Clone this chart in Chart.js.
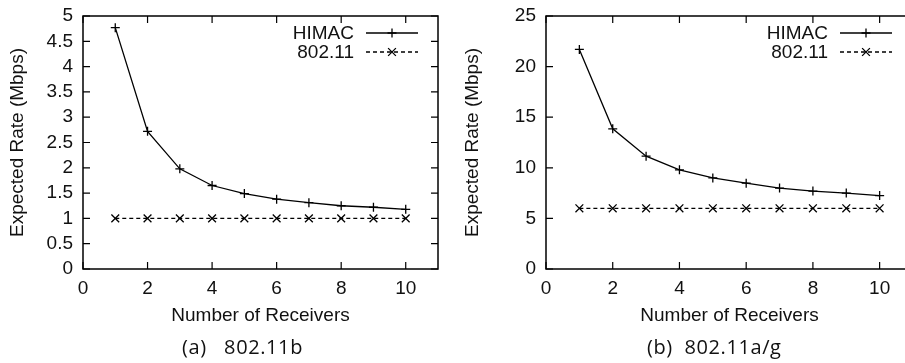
<!DOCTYPE html>
<html>
<head>
<meta charset="utf-8">
<script src="https://cdn.jsdelivr.net/npm/chart.js@4.4.1/dist/chart.umd.min.js"></script>
<style>
  html, body { margin: 0; padding: 0; background: #fff; width: 905px; height: 363px; overflow: hidden; }
  .box { position: absolute; top: 0; height: 363px; }
  #boxA { left: 0; width: 450px; }
  #boxB { left: 455px; width: 470px; }
  .caption { position: absolute; top: 333px; font-family: "Open Sans", "Noto Sans", sans-serif; font-size: 20px; color: #111; letter-spacing: 0.6px; white-space: pre; }
</style>
</head>
<body>
<div class="box" id="boxA"><canvas id="chartA" width="450" height="363"></canvas></div>
<div class="box" id="boxB"><canvas id="chartB" width="470" height="363"></canvas></div>
<div class="caption" style="left:182px">(a)   802.11b</div>
<div class="caption" style="left:647px">(b)  802.11a/g</div>
<script>
// number of receivers (x axis)
var receivers = [1, 2, 3, 4, 5, 6, 7, 8, 9, 10]

// (a) 802.11b
var himacB = [4.77, 2.72, 1.98, 1.65, 1.49, 1.38, 1.31, 1.25, 1.22, 1.18]
var dot11B = [1, 1, 1, 1, 1, 1, 1, 1, 1, 1]

// (b) 802.11a/g
var himacAG = [21.7, 13.85, 11.15, 9.8, 9.0, 8.48, 8.0, 7.7, 7.5, 7.26]
var dot11AG = [6, 6, 6, 6, 6, 6, 6, 6, 6, 6]

var seriesNames = ["HIMAC", "802.11"]

Chart.defaults.font.family = "'Liberation Sans', Arial, sans-serif"
Chart.defaults.font.size = 19
Chart.defaults.color = "#111"

var toPoints = (xs, ys) => xs.map((x, i) => ({x: x, y: ys[i]}))

// gnuplot look: full frame, inward ticks on all sides, legend top right
var gnuplotFrame = {
  id: "gnuplotFrame",
  afterDraw(chart) {
    var ctx = chart.ctx
    var a = chart.chartArea
    var xs = chart.scales.x
    var ys = chart.scales.y
    var tick = 7
    ctx.save()
    ctx.strokeStyle = "#000"
    ctx.lineWidth = 1.5
    ctx.strokeRect(a.left, a.top, a.right - a.left, a.bottom - a.top)
    ctx.lineWidth = 1.2
    ctx.beginPath()
    xs.ticks.forEach(t => {
      var px = xs.getPixelForValue(t.value)
      ctx.moveTo(px, a.bottom); ctx.lineTo(px, a.bottom - tick)
      ctx.moveTo(px, a.top); ctx.lineTo(px, a.top + tick)
    })
    ys.ticks.forEach(t => {
      var py = ys.getPixelForValue(t.value)
      ctx.moveTo(a.left, py); ctx.lineTo(a.left + tick, py)
      ctx.moveTo(a.right, py); ctx.lineTo(a.right - tick, py)
    })
    ctx.stroke()

    // legend
    var opts = chart.options.plugins.gnuplotFrame
    var sampleRight = opts.legendRight
    var sampleLeft = sampleRight - 52
    ctx.font = "19px 'Liberation Sans', Arial, sans-serif"
    ctx.fillStyle = "#111"
    ctx.textAlign = "right"
    ctx.textBaseline = "middle"
    chart.data.datasets.forEach((ds, i) => {
      var y = a.top + 17 + i * 19
      ctx.fillText(ds.label, sampleLeft - 12, y + 1)
      ctx.strokeStyle = "#000"
      ctx.lineWidth = 1.3
      ctx.setLineDash(ds.borderDash || [])
      ctx.beginPath()
      ctx.moveTo(sampleLeft, y); ctx.lineTo(sampleRight, y)
      ctx.stroke()
      ctx.setLineDash([])
      var cx = (sampleLeft + sampleRight) / 2
      Chart.helpers.drawPoint(ctx, {pointStyle: ds.pointStyle, radius: ds.pointRadius, borderWidth: 1.3}, cx, y)
    })
    ctx.restore()
  }
}

function makeChart(el, himac, dot11, yMax, yStep, yWidth, rightPad, legendRight) {
  var config = {
    type: "line",
    data: {
      datasets: [
        {
          label: seriesNames[0],
          data: toPoints(receivers, himac),
          borderColor: "#000",
          backgroundColor: "#000",
          borderWidth: 1.3,
          pointStyle: "cross",
          pointRadius: 4.5,
          pointBorderWidth: 1.3,
          tension: 0
        },
        {
          label: seriesNames[1],
          data: toPoints(receivers, dot11),
          borderColor: "#000",
          backgroundColor: "#000",
          borderWidth: 1.2,
          borderDash: [4, 3],
          pointStyle: "crossRot",
          pointRadius: 5.5,
          pointBorderWidth: 1.3,
          tension: 0
        }
      ]
    },
    options: {
      responsive: false,
      animation: false,
      events: [],
      layout: { padding: { top: 16, right: rightPad, bottom: 36, left: 0 } },
      scales: {
        x: {
          type: "linear",
          min: 0,
          max: 11,
          border: { display: false },
          grid: { display: false, drawTicks: false },
          ticks: { stepSize: 2, includeBounds: false, padding: 8, maxRotation: 0, autoSkip: false, color: "#111" },
          title: { display: true, text: "Number of Receivers", color: "#111", font: { size: 19 }, padding: { top: 4, bottom: 0 } },
          afterFit: s => { s.height = 58 }
        },
        y: {
          min: 0,
          max: yMax,
          border: { display: false },
          grid: { display: false, drawTicks: false },
          ticks: { stepSize: yStep, padding: 10, autoSkip: false, color: "#111", callback: v => String(v) },
          title: { display: true, text: "Expected Rate (Mbps)", color: "#111", font: { size: 19 }, padding: { top: 6, bottom: 0 } },
          afterFit: s => { s.width = yWidth; s.paddingTop = 0; s.paddingBottom = 0 }
        }
      },
      plugins: {
        legend: { display: false },
        tooltip: { enabled: false },
        gnuplotFrame: { legendRight: legendRight }
      }
    },
    plugins: [gnuplotFrame]
  }
  return new Chart(el, config)
}

makeChart(document.getElementById("chartA"), himacB, dot11B, 5, 0.5, 83, 12, 418)
makeChart(document.getElementById("chartB"), himacAG, dot11AG, 25, 5, 91, 12, 437)
</script>
</body>
</html>
